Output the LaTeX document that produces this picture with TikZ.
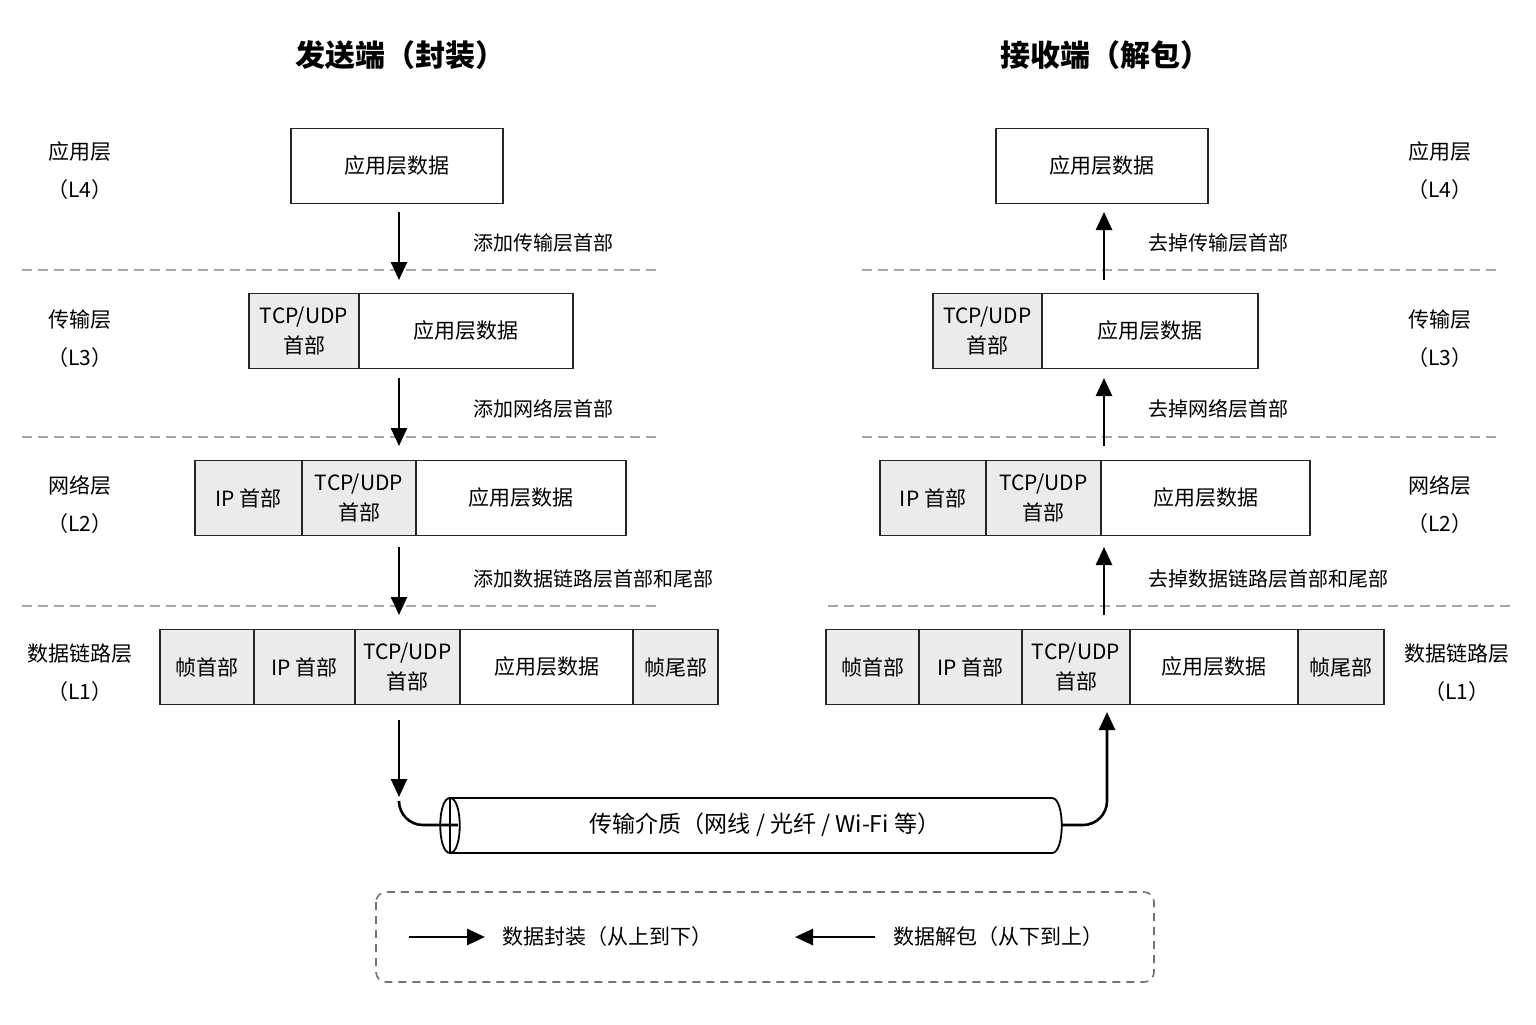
\documentclass[tikz,border=0pt]{standalone}
\usepackage{fontspec}
\setmainfont{Noto Sans CJK SC}
\usetikzlibrary{arrows.meta}
\begin{document}
\begin{tikzpicture}[x=0.5pt,y=-0.5pt,
 seg/.style={draw=black!85,line width=0.8pt,minimum height=37.5pt,inner sep=0pt,font=\fontsize{10.5}{15}\selectfont,align=center},
 gseg/.style={seg,fill=black!8},
 lbl/.style={font=\fontsize{10.5}{13}\selectfont,align=center},
 note/.style={font=\fontsize{10}{12}\selectfont,anchor=west,inner sep=0pt},
 dl/.style={dashed,draw=black!35,line width=0.7pt,dash pattern=on 5pt off 3pt},
 arr/.style={-{Triangle[length=9pt,width=8pt]},line width=1.3pt}]
\path[use as bounding box,fill=white] (0,0) rectangle (1536,1024);
\node[font=\fontsize{15}{18}\selectfont\bfseries] (t1) at (400,55) {发送端（封装）};
\node[font=\fontsize{15}{18}\selectfont\bfseries] (t2) at (1105,55) {接收端（解包）};
\foreach \n/\a/\b/\y in {a/应用层/（L4）/171, b/传输层/（L3）/339, c/网络层/（L2）/505}{
 \node[lbl] (l\n) at (80,\y) {\a\\[6pt]\b};
 \node[lbl] (r\n) at (1440,\y) {\a\\[6pt]\b};}
\node[lbl] (ld) at (80,673) {数据链路层\\[6pt]（L1）};
\node[lbl] (rd) at (1457,673) {数据链路层\\[6pt]（L1）};
\foreach \y in {270,437}{\draw[dl] (22,\y)--(657,\y); \draw[dl] (862,\y)--(1498,\y);}
\draw[dl] (22,606)--(657,606); \draw[dl] (828,606)--(1510,606);
\newcommand{\sg}[6]{\node[#1,minimum width={(#4-#3)*0.5pt}] (#2) at ({(#3+#4)/2},#5) {#6};}
\sg{seg}{La}{291}{503}{166}{应用层数据}
\sg{gseg}{Lb1}{249}{359}{331}{TCP/UDP\\首部}
\sg{seg}{Lb2}{359}{573}{331}{应用层数据}
\sg{gseg}{Lc1}{195}{302}{498}{IP 首部}
\sg{gseg}{Lc2}{302}{416}{498}{TCP/UDP\\首部}
\sg{seg}{Lc3}{416}{626}{498}{应用层数据}
\sg{gseg}{Ld1}{160}{254}{667}{帧首部}
\sg{gseg}{Ld2}{254}{355}{667}{IP 首部}
\sg{gseg}{Ld3}{355}{460}{667}{TCP/UDP\\首部}
\sg{seg}{Ld4}{460}{633}{667}{应用层数据}
\sg{gseg}{Ld5}{633}{718}{667}{帧尾部}
\sg{seg}{Ra}{996}{1208}{166}{应用层数据}
\sg{gseg}{Rb1}{933}{1042}{331}{TCP/UDP\\首部}
\sg{seg}{Rb2}{1042}{1258}{331}{应用层数据}
\sg{gseg}{Rc1}{880}{986}{498}{IP 首部}
\sg{gseg}{Rc2}{986}{1101}{498}{TCP/UDP\\首部}
\sg{seg}{Rc3}{1101}{1310}{498}{应用层数据}
\sg{gseg}{Rd1}{826}{919}{667}{帧首部}
\sg{gseg}{Rd2}{919}{1022}{667}{IP 首部}
\sg{gseg}{Rd3}{1022}{1130}{667}{TCP/UDP\\首部}
\sg{seg}{Rd4}{1130}{1298}{667}{应用层数据}
\sg{gseg}{Rd5}{1298}{1384}{667}{帧尾部}
\coordinate (a1) at (399,212); \coordinate (a2) at (399,280);
\coordinate (b1) at (399,378); \coordinate (b2) at (399,446);
\coordinate (c1) at (399,547); \coordinate (c2) at (399,615);
\coordinate (d1) at (399,720); \coordinate (d2) at (399,797);
\draw[arr] (a1)--(a2); \draw[arr] (b1)--(b2); \draw[arr] (c1)--(c2); \draw[arr] (d1)--(d2);
\node[note] (na) at (473,243) {添加传输层首部};
\node[note] (nb) at (473,409) {添加网络层首部};
\node[note] (nc) at (473,579) {添加数据链路层首部和尾部};
\coordinate (e1) at (1104,280); \coordinate (e2) at (1104,212);
\coordinate (f1) at (1104,446); \coordinate (f2) at (1104,378);
\coordinate (g1) at (1104,615); \coordinate (g2) at (1104,547);
\draw[arr] (e1)--(e2); \draw[arr] (f1)--(f2); \draw[arr] (g1)--(g2);
\node[note] (ne) at (1148,243) {去掉传输层首部};
\node[note] (nf) at (1148,409) {去掉网络层首部};
\node[note] (ng) at (1148,579) {去掉数据链路层首部和尾部};
\draw[line width=0.9pt,fill=white] (450,798) -- (1052,798) .. controls (1065,798) and (1065,853) .. (1052,853) -- (450,853) -- cycle;
\draw[line width=0.9pt] (450,798) .. controls (437,798) and (437,853) .. (450,853) .. controls (463,853) and (463,798) .. (450,798);
\node[font=\fontsize{11.5}{13}\selectfont] (med) at (765,825) {传输介质（网线 / 光纤 / Wi-Fi 等）};
\coordinate (cl) at (458,825); \coordinate (cr) at (1062,825);
\draw[line width=1.3pt,rounded corners=12pt] (399,803)--(399,825)--(cl);
\draw[arr,rounded corners=12pt] (cr)--(1107,825)--(1107,712);
\draw[dashed,draw=black!55,line width=0.8pt,dash pattern=on 4pt off 3pt,rounded corners=5pt] (376,892) rectangle (1154,982);
\coordinate (k1) at (409,937); \coordinate (k2) at (485,937);
\coordinate (k3) at (875,937); \coordinate (k4) at (795,937);
\draw[arr] (k1)--(k2); \draw[arr] (k3)--(k4);
\node[note,font=\fontsize{10.5}{12}\selectfont] (kt1) at (502,937) {数据封装（从上到下）};
\node[note,font=\fontsize{10.5}{12}\selectfont] (kt2) at (893,937) {数据解包（从下到上）};
\end{tikzpicture}
\end{document}
